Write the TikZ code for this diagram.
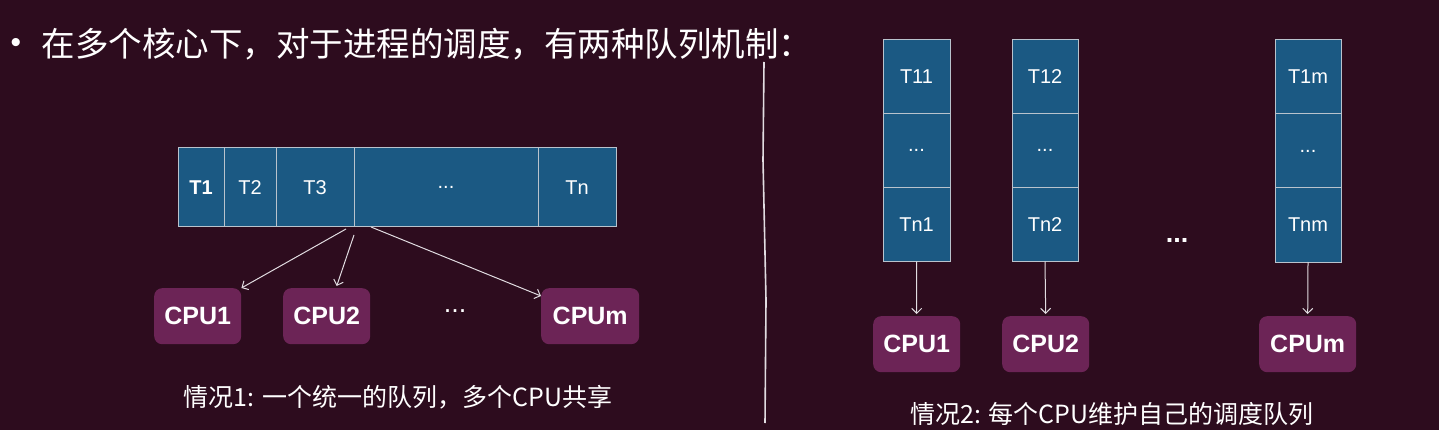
\documentclass[tikz,border=0pt]{standalone}
\usepackage{fontspec}
\setmainfont{Liberation Sans}
\newfontfamily\cjkfont{Noto Sans CJK SC}
\usetikzlibrary{arrows.meta}
\definecolor{bgpurple}{RGB}{45,12,30}
\definecolor{cellblue}{RGB}{27,89,131}
\definecolor{cellline}{RGB}{185,195,205}
\definecolor{cpupurple}{RGB}{108,36,86}
\definecolor{linkgray}{RGB}{225,220,225}
\begin{document}
\begin{tikzpicture}[x=1pt, y={(0pt,-1pt)},
      cell/.style = {shape=rectangle, draw=cellline, line width=1pt, fill=cellblue, inner sep=0pt, outer sep=0pt,
        anchor=north west, text=white, font=\fontsize{20}{20}\selectfont},
      cpu/.style = {shape=rectangle, fill=cpupurple, rounded corners=8pt, inner sep=0pt, anchor=north west,
        minimum height=56pt, text=white, font=\bfseries\fontsize{25}{25}\selectfont},
      caption/.style = {text=white, font=\cjkfont\fontsize{25}{25}\selectfont},
      link/.style = {draw=linkgray, line width=1pt, -{Straight Barb[length=5pt,width=10pt]}}]
    \fill[bgpurple] (0,0) rectangle (1439,430);
    \useasboundingbox (0,0) rectangle (1439,430);
    % title line
    \node[text=white, font=\fontsize{30}{30}\selectfont] (bullet) at (16,46) {•};
    \node[anchor=west, text=white, font=\cjkfont\fontsize{33.5}{33.5}\selectfont] (title) at (38,44) {在多个核心下，对于进程的调度，有两种队列机制：};
    \draw[linkgray, line width=1.6pt] (764,62) -- (763,160) -- (766,300) -- (765,423);
    % case 1: one shared queue
    \node[cell, minimum width=46pt, minimum height=79pt] (t1) at (178,148) {\textbf{T1}};
    \node[cell, minimum width=52pt, minimum height=79pt] (t2) at (t1.north east) {T2};
    \node[cell, minimum width=78pt, minimum height=79pt] (t3) at (t2.north east) {T3};
    \node[cell, minimum width=184pt, minimum height=79pt] (tdots) at (t3.north east) {...};
    \node[cell, minimum width=78pt, minimum height=79pt] (tn) at (tdots.north east) {Tn};
    \node[cpu, minimum width=87pt] (cpua) at (154,288) {CPU1};
    \node[cpu, minimum width=87pt] (cpub) at (283,288) {CPU2};
    \node[cpu, minimum width=98pt] (cpuc) at (541,288) {CPUm};
    \node[text=white, font=\fontsize{27}{27}\selectfont] (cpudots) at (455,311) {...};
    \draw[link] ([xshift=-8pt, yshift=-2pt]tdots.south west) -- (cpua.north east);
    \draw[link] ([yshift=-8pt]tdots.south west) -- ([xshift=10pt, yshift=2pt]cpub.north);
    \draw[link] ([xshift=17pt]tdots.south west) -- ([yshift=-8pt]cpuc.north west);
    \node[caption] (cap1) at (398,397) {情况1: 一个统一的队列，多个CPU共享};
    % case 2: one queue per CPU
    \node[cell, minimum width=67pt, minimum height=74pt] (q1a) at (883,39.5) {T11};
    \node[cell, minimum width=67pt, minimum height=74pt] (q1b) at (q1a.south west) {...};
    \node[cell, minimum width=67pt, minimum height=74pt] (q1c) at (q1b.south west) {Tn1};
    \node[cell, minimum width=66pt, minimum height=74pt] (q2a) at (1012,39.5) {T12};
    \node[cell, minimum width=66pt, minimum height=74pt] (q2b) at (q2a.south west) {...};
    \node[cell, minimum width=66pt, minimum height=74pt] (q2c) at (q2b.south west) {Tn2};
    \node[cell, minimum width=66pt, minimum height=74pt] (qma) at (1275,40) {T1m};
    \node[cell, minimum width=66pt, minimum height=74pt] (qmb) at (qma.south west) {...};
    \node[cell, minimum width=66pt, minimum height=74pt] (qmc) at (qmb.south west) {Tnm};
    \node[text=white, font=\bfseries\fontsize{27}{27}\selectfont] (qdots) at (1177,240) {...};
    \node[cpu, minimum width=87pt] (cpur1) at (873,316) {CPU1};
    \node[cpu, minimum width=87pt] (cpur2) at (1002,316) {CPU2};
    \node[cpu, minimum width=97pt] (cpurm) at (1259,316) {CPUm};
    \draw[link] (q1c.south) -- ([yshift=2pt]cpur1.north);
    \draw[link] (q2c.south) -- ([yshift=2pt]cpur2.north);
    \draw[link] (qmc.south) -- ([yshift=2pt]cpurm.north);
    \node[caption] (cap2) at (1112,414) {情况2: 每个CPU维护自己的调度队列};
\end{tikzpicture}
\end{document}
